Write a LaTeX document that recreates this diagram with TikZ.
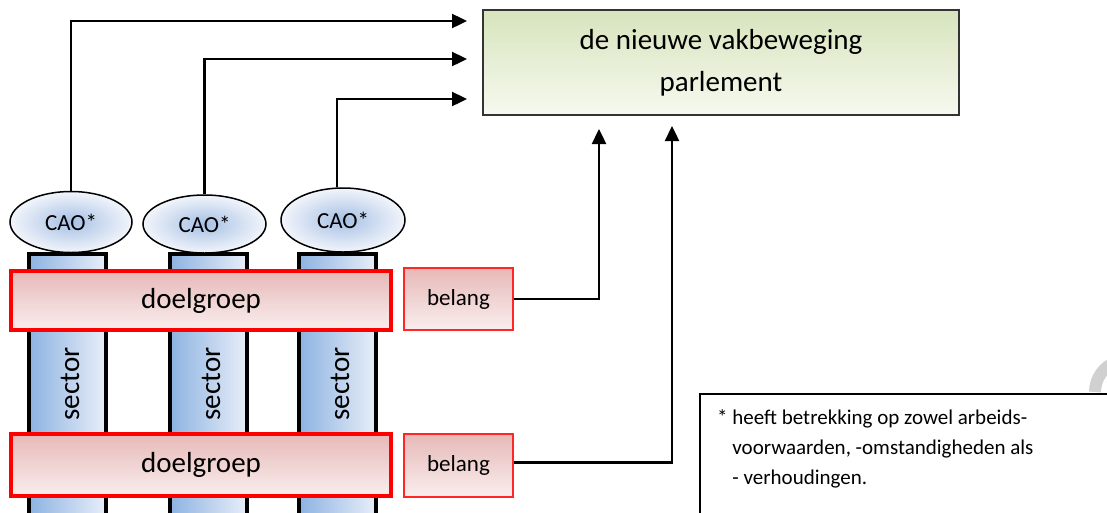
\documentclass[tikz,border=0pt]{standalone}
\usepackage{fontspec}
\setmainfont{Carlito}
\usetikzlibrary{arrows.meta,calc,shapes.geometric}

\definecolor{grnT}{HTML}{D7E4BD}
\definecolor{grnB}{HTML}{F6F9EF}
\definecolor{redT}{HTML}{E6B9B8}
\definecolor{redB}{HTML}{FAEEEE}
\definecolor{bluL}{HTML}{8DB3E2}
\definecolor{bluR}{HTML}{E8EEF8}
\definecolor{ellIn}{HTML}{A6C0E4}
\definecolor{ellOut}{HTML}{F2F5FB}
\definecolor{frameRed}{HTML}{FF0000}
\definecolor{markGray}{HTML}{D0D0D0}

\begin{document}
\begin{tikzpicture}[x=1pt,y=-1pt,
  conn/.style={line width=2.4pt,black},
  arr/.style={conn,-{Triangle[length=15pt,width=14pt]}},
  column/.style={draw=black,line width=3.5pt,left color=bluL,right color=bluR,
    minimum width=77pt,minimum height=270pt,inner sep=0pt},
  sectorlbl/.style={rotate=90,font=\fontsize{29}{34}\selectfont,inner sep=0pt},
  cao/.style={ellipse,draw=black,line width=1.5pt,inner color=ellIn,outer color=ellOut,
    inner sep=0pt,font=\fontsize{23}{27}\selectfont},
  group/.style={draw=frameRed,line width=3.5pt,top color=redT,bottom color=redB,
    minimum width=380pt,inner sep=0pt,font=\fontsize{29}{34}\selectfont},
  interest/.style={draw=frameRed!85,line width=1.5pt,top color=redT,bottom color=redB,
    minimum width=109pt,inner sep=0pt,font=\fontsize{23}{27}\selectfont},
  target/.style={draw=black!80,line width=2pt,top color=grnT,bottom color=grnB,
    minimum width=476pt,minimum height=105pt,inner sep=0pt,align=center,
    font=\fontsize{29}{42}\selectfont},
  notebox/.style={draw=black,line width=2pt,minimum width=440pt,minimum height=150pt,
    inner sep=0pt,anchor=north west},
  notetext/.style={anchor=north west,align=left,inner sep=0pt,
    font=\fontsize{21}{30}\selectfont}]

\useasboundingbox (0,0) rectangle (1107,512);
\clip (0,0) rectangle (1107,512);

% sector columns
\node[column] (s1) at (67.5,389) {};
\node[column] (s2) at (208.5,389) {};
\node[column] (s3) at (337.5,389) {};
\node[sectorlbl] (l1) at (70,384) {sector};
\node[sectorlbl] (l2) at (211,384) {sector};
\node[sectorlbl] (l3) at (340,384) {sector};

% collective agreements on top of the columns
\node[cao,minimum width=122pt,minimum height=61pt] (c1) at (71,222) {CAO*};
\node[cao,minimum width=123pt,minimum height=58pt] (c2) at (204.5,224) {CAO*};
\node[cao,minimum width=124pt,minimum height=64pt] (c3) at (343,220) {CAO*};

% target groups across the columns
\node[group,minimum height=59pt] (g1) at (201,300.5) {doelgroep};
\node[group,minimum height=62pt] (g2) at (201,465) {doelgroep};

% interests of the target groups
\node[interest,minimum height=62pt] (b1) at (458.5,299) {belang};
\node[interest,minimum height=63pt] (b2) at (458.5,465.5) {belang};

% union / parliament
\node[target] (main) at (721,62.5) {de nieuwe vakbeweging\\parlement};

% connectors from the agreements
\draw[arr,shorten >=15pt] (c1.north) |- ($(main.north west)+(0,12)$);
\draw[arr,shorten >=15pt] (c2.north) |- ($(main.north west)+(0,50)$);
\draw[arr,shorten >=15pt] ($(c3.north)+(-6,0)$) |- ($(main.north west)+(0,90)$);

% connectors from the interests
\draw[arr,shorten >=13pt] (b1.east) -| ($(main.south west)+(117,0)$);
\draw[arr,shorten >=10pt] ($(b2.east)+(0,-3)$) -| ($(main.south west)+(190,0)$);

% footnote
\node[notebox] (note) at (699,393) {};
\node[notetext] (notetxt) at ($(note.north west)+(18,16)$)
  {* heeft betrekking op zowel arbeids-\\\phantom{* }voorwaarden, -omstandigheden als\\\phantom{* }- verhoudingen.};

% grey mark at the page edge
\draw[markGray,line width=12pt] (1095,392) arc[start angle=180,end angle=250,radius=32];
\end{tikzpicture}
\end{document}
